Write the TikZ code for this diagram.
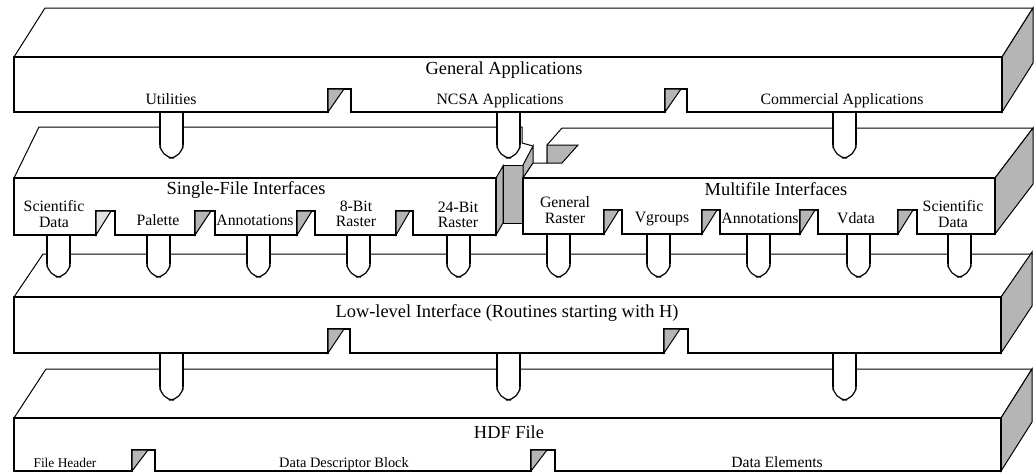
\documentclass[tikz,border=0pt]{standalone}
\usepackage{fontspec}
\setmainfont{Liberation Serif}
\definecolor{sidegray}{gray}{0.71}
\definecolor{lightside}{gray}{0.88}
\newcommand\hdfpeg[4]{%
  \coordinate (#1) at (#2,#3);
  \fill[white] (#2,#3) rectangle ({#2+23},{#4-4});
  \draw[line width=1pt] (#2,#3) -- (#2,{#4-13});
  \draw[line width=1pt] ({#2+23},#3) -- ({#2+23},{#4-13});
  \draw[line width=0.6pt,rounded corners=7,fill=white] (#2,{#4-10}) -- (#2,#4) -- ({#2+23},#4) -- ({#2+23},{#4-10});
}
\begin{document}
\begin{tikzpicture}[x=0.5pt,y=-0.5pt,
  front/.style={draw=black,line width=1pt,fill=white,line join=miter},
  thinline/.style={draw=black,line width=0.5pt},
  topface/.style={thinline,fill=white},
  sideface/.style={thinline,fill=sidegray},
  tri/.style={thinline,fill=sidegray},
  title/.style={font=\fontsize{9.2}{11}\selectfont,inner sep=0pt,anchor=base},
  lbl/.style={font=\fontsize{7.9}{7.6}\selectfont,inner sep=0pt,align=center},
  lblb/.style={lbl,anchor=base},
]
\useasboundingbox (0,0) rectangle (1036,473);

% ================= Layer 4 : HDF File =================
\path[topface] (14,418) -- (46,369) -- (1032,369) -- (1001,418) -- cycle;
\path[sideface] (1001,418) -- (1032,369) -- (1032,422) -- (1001,471) -- cycle;
\path[front] (14,418) -- (1001,418) -- (1001,471) -- (555,471) -- (555,450) -- (531,450) -- (531,471)
  -- (155,471) -- (155,450) -- (132,450) -- (132,471) -- (14,471) -- cycle;
\path[tri] (132,450) -- (148,450) -- (132,471) -- cycle;
\path[tri] (531,450) -- (547,450) -- (531,471) -- cycle;
\node[title] (hdf) at (509,438) {HDF File};
\node[anchor=base,inner sep=0pt,font=\fontsize{6.7}{8}\selectfont] (fh) at (65,467) {File Header};
\node[anchor=base,inner sep=0pt,font=\fontsize{7.2}{8}\selectfont] (ddb) at (344,467) {Data Descriptor Block};
\node[anchor=base,inner sep=0pt,font=\fontsize{7.8}{8}\selectfont] (de) at (777,467) {Data Elements};

% pegs layer 3 -> 4
\hdfpeg{p3a}{160}{353}{400}
\hdfpeg{p3b}{497}{353}{400}
\hdfpeg{p3c}{833}{353}{400}

% ================= Layer 3 : Low-level =================
\path[topface] (14,297) -- (43,254) -- (1032,254) -- (1001,297) -- cycle;
\path[sideface] (1001,297) -- (1032,252) -- (1032,306) -- (1001,353) -- cycle;
\path[front] (14,297) -- (1001,297) -- (1001,353) -- (688,353) -- (688,329) -- (664,329) -- (664,353)
  -- (350,353) -- (350,329) -- (328,329) -- (328,353) -- (14,353) -- cycle;
\path[tri] (328,329) -- (344,329) -- (328,353) -- cycle;
\path[tri] (664,329) -- (680,329) -- (664,353) -- cycle;
\node[title] (low) at (507,317) {Low-level Interface (Routines starting with H)};

% pegs layer 2 -> 3
\hdfpeg{p2a}{47}{234}{277}
\hdfpeg{p2b}{147}{234}{277}
\hdfpeg{p2c}{247}{234}{277}
\hdfpeg{p2d}{347}{234}{277}
\hdfpeg{p2e}{447}{234}{277}
\hdfpeg{p2f}{547}{234}{277}
\hdfpeg{p2g}{647}{234}{277}
\hdfpeg{p2h}{747}{234}{277}
\hdfpeg{p2i}{847}{234}{277}
\hdfpeg{p2j}{948}{234}{277}

% ================= Layer 2 : interfaces =================
% left box top face
\fill[white] (14,178) -- (39,127) -- (522,127) -- (522,145) -- (503,166) -- (496,178) -- cycle;
\draw[thinline] (14,178) -- (39,127) -- (522,127) -- (522,143) -- (533,146);
% junction pieces
\path[sideface] (496,178) -- (503,166) -- (503,223) -- (496,235) -- cycle;
\path[sideface] (503,165) -- (523,165) -- (523,223) -- (503,223) -- cycle;
\path[sideface] (523,165) -- (533,146) -- (533,163) -- (523,178) -- cycle;
% right box top face
\path[topface] (523,178) -- (533,163) -- (547,163) -- (547,145) -- (562,128) -- (1033,128) -- (995,178) -- cycle;
\path[sideface] (547,145) -- (578,145) -- (562,163) -- (547,163) -- cycle;
\path[sideface] (995,178) -- (1033,128) -- (1033,184) -- (995,234) -- cycle;
% left box front
\path[front] (14,178) -- (496,178) -- (496,235) -- (413,235) -- (413,211) -- (396,211) -- (396,235)
  -- (315,235) -- (315,211) -- (297,211) -- (297,235) -- (215,235) -- (215,211) -- (195,211) -- (195,235)
  -- (115,235) -- (115,211) -- (96,211) -- (96,235) -- (14,235) -- cycle;
\path[thinline,fill=lightside] (96,211) -- (111,211) -- (96,235) -- cycle;
\path[tri] (195,211) -- (211,211) -- (195,235) -- cycle;
\path[tri] (297,211) -- (312,211) -- (297,235) -- cycle;
\path[tri] (396,211) -- (410,211) -- (396,235) -- cycle;
% right box front
\path[front] (523,178) -- (995,178) -- (995,234) -- (917,234) -- (917,210) -- (898,210) -- (898,234)
  -- (818,234) -- (818,210) -- (800,210) -- (800,234) -- (720,234) -- (720,210) -- (702,210) -- (702,234)
  -- (622,234) -- (622,210) -- (604,210) -- (604,234) -- (523,234) -- cycle;
\path[tri] (604,210) -- (619,210) -- (604,234) -- cycle;
\path[tri] (702,210) -- (717,210) -- (702,234) -- cycle;
\path[tri] (800,210) -- (815,210) -- (800,234) -- cycle;
\path[tri] (898,210) -- (913,210) -- (898,234) -- cycle;

\node[title] (sfi) at (246,194) {Single-File Interfaces};
\node[title] (mfi) at (776,195) {Multifile Interfaces};
\node[lbl] (sdl) at (54,214) {Scientific\\Data};
\node[lblb] (pal) at (158,225) {Palette};
\node[lblb] (anl) at (255,225) {Annotations};
\node[lbl] (r8) at (356,214) {8-Bit\\Raster};
\node[lbl] (r24) at (458,215) {24-Bit\\Raster};
\node[lbl] (gr) at (565,210) {General\\Raster};
\node[lblb] (vg) at (662,222) {Vgroups};
\node[lblb] (anr) at (760,223) {Annotations};
\node[lblb] (vd) at (856,223) {Vdata};
\node[lbl] (sdr) at (953,214) {Scientific\\Data};

% pegs layer 1 -> 2
\hdfpeg{p1a}{160}{112}{158}
\hdfpeg{p1b}{497}{112}{158}
\hdfpeg{p1c}{833}{112}{158}

% ================= Layer 1 : General Applications =================
\path[topface] (14,57) -- (45,8) -- (1033,8) -- (1002,57) -- cycle;
\path[sideface] (1002,57) -- (1033,8) -- (1033,63) -- (1002,112) -- cycle;
\path[front] (14,57) -- (1002,57) -- (1002,112) -- (687,112) -- (687,89) -- (665,89) -- (665,112)
  -- (351,112) -- (351,89) -- (328,89) -- (328,112) -- (14,112) -- cycle;
\path[tri] (328,89) -- (344,89) -- (328,112) -- cycle;
\path[tri] (665,89) -- (681,89) -- (665,112) -- cycle;
\node[title] (ga) at (504,74) {General Applications};
\node[lblb] (ut) at (171,104) {Utilities};
\node[lblb] (ncsa) at (500,104) {NCSA Applications};
\node[lblb] (com) at (842,104) {Commercial Applications};
\end{tikzpicture}
\end{document}
